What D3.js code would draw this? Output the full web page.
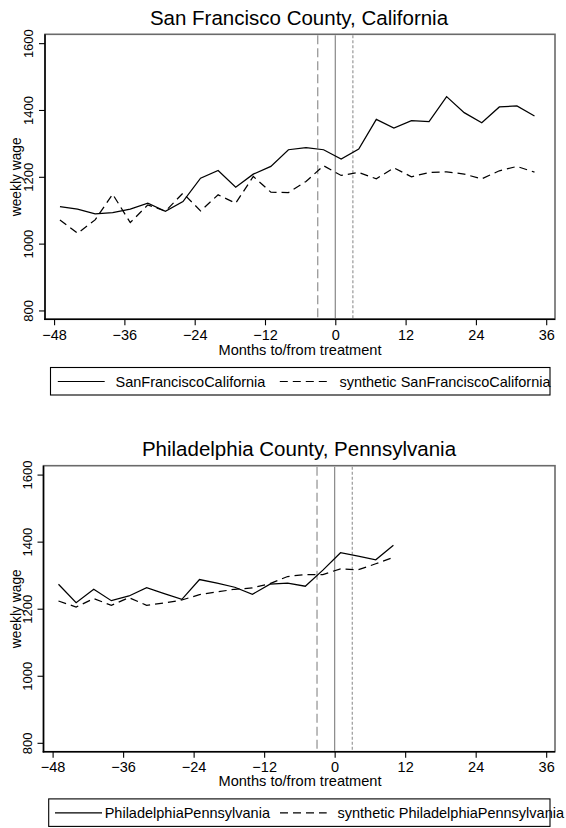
<!DOCTYPE html>
<html>
<head>
<meta charset="utf-8">
<script src="https://cdn.jsdelivr.net/npm/d3@7"></script>
<style>
    body { margin: 0; background: #fff; }
    svg { display: block; font-family: "Liberation Sans", Arial, Helvetica, sans-serif; }
</style>
</head>
<body>
<div id="chart"></div>
<script>
// months to/from treatment, quarterly
var sfMonths = [-47, -44, -41, -38, -35, -32, -29, -26, -23, -20, -17, -14, -11, -8,
    -5, -2, 1, 4, 7, 10, 13, 16, 19, 22, 25, 28, 31, 34];
var sfActual = [1111, 1103, 1089, 1093, 1103, 1121, 1097, 1126, 1196, 1219, 1169, 1208, 1231, 1281,
    1287, 1281, 1253, 1283, 1372, 1346, 1368, 1365, 1440, 1392, 1362, 1409, 1412, 1382];
var sfSynthetic = [1071, 1031, 1071, 1148, 1063, 1116, 1097, 1151, 1098, 1146, 1121, 1201, 1154, 1153,
    1186, 1233, 1204, 1213, 1194, 1227, 1200, 1213, 1215, 1208, 1194, 1218, 1231, 1214];

var phMonths = [-47, -44, -41, -38, -35, -32, -29, -26, -23, -20, -17, -14, -11, -8,
    -5, -2, 1, 4, 7, 10];
var phActual = [1273, 1218, 1258, 1224, 1238, 1263, 1245, 1228, 1287, 1276, 1264, 1243, 1273, 1276,
    1267, 1315, 1367, 1357, 1346, 1389];
var phSynthetic = [1223, 1205, 1230, 1210, 1233, 1210, 1217, 1226, 1242, 1250, 1258, 1262, 1275, 1296,
    1302, 1302, 1319, 1316, 1334, 1353];

var xTicks = [-48, -36, -24, -12, 0, 12, 24, 36];
var yTicks = [800, 1000, 1200, 1400, 1600];
var eventMonths = [-3, 0, 3];

var panelTitles = ["San Francisco County, California", "Philadelphia County, Pennsylvania"];
var actualNames = ["SanFranciscoCalifornia", "PhiladelphiaPennsylvania"];
var syntheticNames = ["synthetic SanFranciscoCalifornia", "synthetic PhiladelphiaPennsylvania"];

(function(d3) {

    "use strict";

    var W = 566, H = 828;

    var svg = d3.select("#chart").append("svg")
        .attr("width", W)
        .attr("height", H);

    // stroke look of the three event lines
    var eventStyle = {
        "-3": { color: "#999", dash: "9,4", width: 1.3 },
        "0": { color: "#888", dash: null, width: 1.2 },
        "3": { color: "#999", dash: "3,2", width: 1.2 }
    };

    /**
     * One synthetic-control panel
     * @param {Object} options panel layout and data
     */
    function Panel(options) {
        this.o = options;
        this.g = svg.append("g").attr("transform", "translate(0," + options.dy + ")");
    }

    Panel.prototype.init = function() {
        var o = this.o, g = this.g;

        var x = d3.scaleLinear().domain([-49.55, 37.5]).range([o.left, 555]);
        var y = d3.scaleLinear().domain([773.5, 1626.5]).range([o.bottom, o.top]);

        // plot region outline
        g.append("rect")
            .attr("x", o.left).attr("y", o.top)
            .attr("width", 555 - o.left).attr("height", o.bottom - o.top)
            .attr("fill", "none")
            .attr("stroke", "#6a6a6a")
            .attr("stroke-width", 1.6);

        // event lines
        g.selectAll(".event")
            .data(eventMonths)
            .enter().append("line")
            .attr("class", "event")
            .attr("x1", function(d) { return x(d); })
            .attr("x2", function(d) { return x(d); })
            .attr("y1", o.top + 1)
            .attr("y2", o.bottom - 1)
            .attr("stroke", function(d) { return eventStyle[d].color; })
            .attr("stroke-width", function(d) { return eventStyle[d].width; })
            .attr("stroke-dasharray", function(d) { return eventStyle[d].dash; });

        var line = d3.line()
            .x(function(d) { return x(d[0]); })
            .y(function(d) { return y(d[1]); });

        g.append("path")
            .datum(d3.zip(o.months, o.synthetic))
            .attr("d", line)
            .attr("fill", "none")
            .attr("stroke", "#000")
            .attr("stroke-width", 1.25)
            .attr("stroke-dasharray", "8,5");

        g.append("path")
            .datum(d3.zip(o.months, o.actual))
            .attr("d", line)
            .attr("fill", "none")
            .attr("stroke", "#000")
            .attr("stroke-width", 1.25);

        // axes
        var xAxis = g.append("g")
            .attr("transform", "translate(0," + o.bottom + ")")
            .call(d3.axisBottom(x).tickValues(xTicks).tickSize(6).tickPadding(4).tickSizeOuter(0));
        var yAxis = g.append("g")
            .attr("transform", "translate(" + o.left + ",0)")
            .call(d3.axisLeft(y).tickValues(yTicks).tickFormat(d3.format("d")).tickSize(6).tickSizeOuter(0));

        [xAxis, yAxis].forEach(function(a) {
            a.select(".domain").remove();
            a.selectAll("line").attr("stroke", "#000").attr("stroke-width", 1.1);
            a.selectAll("text").attr("fill", "#000");
        });

        xAxis.selectAll("text").attr("dy", "0.71em").style("font-size", "14.5px");

        yAxis.selectAll("text")
            .style("font-size", "13px")
            .attr("text-anchor", "middle")
            .attr("transform", "translate(-12,0) rotate(-90)")
            .attr("x", 0)
            .attr("dy", 0);

        // axis lines drawn black over the outline
        g.append("line")
            .attr("x1", o.left).attr("x2", o.left)
            .attr("y1", o.top).attr("y2", o.bottom + 0.8)
            .attr("stroke", "#000").attr("stroke-width", 1.5);
        g.append("line")
            .attr("x1", o.left - 0.8).attr("x2", 555)
            .attr("y1", o.bottom).attr("y2", o.bottom)
            .attr("stroke", "#000").attr("stroke-width", 1.5);

        // titles
        g.append("text")
            .attr("x", 299).attr("y", 25)
            .attr("text-anchor", "middle")
            .style("font-size", "20.5px")
            .text(o.title);

        g.append("text")
            .attr("x", 300).attr("y", 355)
            .attr("text-anchor", "middle")
            .style("font-size", "14.6px")
            .text("Months to/from treatment");

        g.append("text")
            .attr("transform", "translate(21," + ((o.top + o.bottom) / 2) + ") rotate(-90)")
            .attr("text-anchor", "middle")
            .style("font-size", "13.8px")
            .text("weekly wage");

        this.legend();
    };

    Panel.prototype.legend = function() {
        var o = this.o, L = o.legend;
        var lg = this.g.append("g");

        lg.append("rect")
            .attr("x", L.x0).attr("y", 367.5)
            .attr("width", 550 - L.x0).attr("height", 27.5)
            .attr("fill", "#fff")
            .attr("stroke", "#000")
            .attr("stroke-width", 1.1);

        var items = [
            { name: o.actualName, dash: null, k0: L.k1[0], k1: L.k1[1], tx: L.t1 },
            { name: o.syntheticName, dash: "8,5", k0: L.k2[0], k1: L.k2[1], tx: L.t2 }
        ];

        items.forEach(function(it) {
            lg.append("line")
                .attr("x1", it.k0).attr("x2", it.k1)
                .attr("y1", 381.5).attr("y2", 381.5)
                .attr("stroke", "#000")
                .attr("stroke-width", 1.2)
                .attr("stroke-dasharray", it.dash);
            lg.append("text")
                .attr("x", it.tx).attr("y", 386.7)
                .style("font-size", "14.5px")
                .text(it.name);
        });
    };

    new Panel({
        dy: 0, top: 34.3, bottom: 319.3, left: 45,
        months: sfMonths, actual: sfActual, synthetic: sfSynthetic,
        title: panelTitles[0], actualName: actualNames[0], syntheticName: syntheticNames[0],
        legend: { x0: 50.5, k1: [57.8, 104.7], t1: 115.5, k2: [279.8, 330], t2: 339.4 }
    }).init();

    new Panel({
        dy: 431.4, top: 34.3, bottom: 320.3, left: 43.5,
        months: phMonths, actual: phActual, synthetic: phSynthetic,
        title: panelTitles[1], actualName: actualNames[1], syntheticName: syntheticNames[1],
        legend: { x0: 48.7, k1: [55, 102], t1: 104.7, k2: [280, 326.7], t2: 337.5 }
    }).init();

})(d3);
</script>
</body>
</html>
